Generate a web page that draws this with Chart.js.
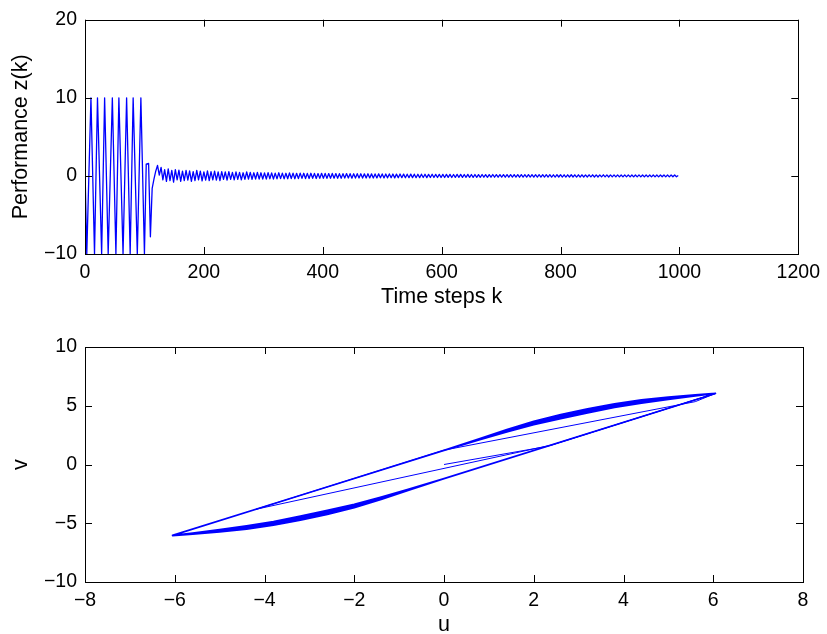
<!DOCTYPE html>
<html>
<head>
<meta charset="utf-8">
<script src="https://cdn.jsdelivr.net/npm/chart.js@4.4.0/dist/chart.umd.min.js"></script>
<style>
  html, body { margin: 0; padding: 0; background: #fff; overflow: hidden; }
  #top-chart { position: absolute; left: 0; top: 0; }
  #bot-chart { position: absolute; left: 0; top: 320px; }
</style>
</head>
<body>
<canvas id="top-chart" width="827" height="320"></canvas>
<canvas id="bot-chart" width="827" height="340"></canvas>
<script>
// tick labels
const topXTicks = [0, 200, 400, 600, 800, 1000, 1200]
const topYTicks = [-10, 0, 10, 20]
const botXTicks = [-8, -6, -4, -2, 0, 2, 4, 6, 8]
const botYTicks = [-10, -5, 0, 5, 10]

// z(k): saturated start, read peak by peak
const zStartK   = [0, 3, 10, 16, 21, 28, 33, 39, 46, 52, 57, 64, 70, 76, 81, 88, 94, 100, 103, 107, 110, 113]
const zStartVal = [0.9, -10, 10, -10, 10, -10, 10, -10, 10, -10, 10, -10, 10, -10, 10, -10, 10, -10, 1.5, 1.6, -7.8, -1.6]

// z(k) after the switch, one value every 3 steps from k = 116
const zTailFirstK = 116
const zTailStepK = 3
const zTailVal = [
  -0.4, 0.6, 1.35, 0.1, 1.1, -0.5, 0.8, -0.7, 0.9, -0.6, 0.7, -0.8, 0.8, -0.5, 0.75, -0.7, 0.6, -0.6, 0.7, -0.55,
  0.65, -0.7, 0.55, -0.6, 0.7, -0.5, 0.6, -0.65, 0.5, -0.55, 0.65, -0.6, 0.55, -0.5, 0.6, -0.55, 0.5, -0.6, 0.55, -0.45,
  0.5, -0.55, 0.55, -0.45, 0.45, -0.5, 0.5, -0.45, 0.45, -0.5, 0.4, -0.45, 0.5, -0.4, 0.45, -0.45, 0.4, -0.4, 0.45, -0.4,
  0.4, -0.42, 0.38, -0.4, 0.42, -0.36, 0.38, -0.4, 0.36, -0.38, 0.4, -0.35, 0.36, -0.38, 0.34, -0.36, 0.38, -0.34, 0.35, -0.36,
  0.33, -0.35, 0.36, -0.32, 0.34, -0.34, 0.32, -0.33, 0.34, -0.31, 0.32, -0.33, 0.3, -0.32, 0.33, -0.3, 0.31, -0.32, 0.3, -0.3,
  0.31, -0.29, 0.3, -0.3, 0.28, -0.3, 0.29, -0.28, 0.3, -0.27, 0.28, -0.29, 0.27, -0.28, 0.28, -0.27, 0.27, -0.28, 0.26, -0.27,
  0.27, -0.26, 0.26, -0.27, 0.25, -0.26, 0.26, -0.25, 0.25, -0.26, 0.24, -0.25, 0.25, -0.24, 0.24, -0.25, 0.23, -0.24, 0.24, -0.23,
  0.23, -0.24, 0.22, -0.23, 0.23, -0.22, 0.22, -0.23, 0.21, -0.22, 0.22, -0.21, 0.21, -0.22, 0.2, -0.21, 0.21, -0.2, 0.2, -0.21,
  0.2, -0.2, 0.19, -0.2, 0.2, -0.19, 0.19, -0.2, 0.18, -0.19, 0.19, -0.18, 0.19, -0.19, 0.18, -0.18, 0.19, -0.18, 0.18, -0.19,
  0.18, -0.18, 0.17, -0.18, 0.18, -0.17, 0.17, -0.18, 0.17, -0.17, 0.18, -0.17, 0.16, -0.17, 0.17, -0.16, 0.17, -0.17, 0.16, -0.17,
  0.16, -0.16, 0.17, -0.16, 0.16, -0.17, 0.16, -0.16, 0.15, -0.16, 0.16, -0.15, 0.16, -0.16, 0.15, -0.16, 0.15, -0.15, 0.16, -0.15,
  0.15, -0.15, 0.15, -0.16, 0.14, -0.15, 0.15, -0.14, 0.15, -0.15, 0.14, -0.15, 0.14, -0.14, 0.15, -0.14, 0.14, -0.15, 0.14, -0.14,
  0.14, -0.14, 0.13, -0.14, 0.14, -0.13, 0.14, -0.14, 0.13, -0.14, 0.13, -0.13, 0.14, -0.13, 0.13, -0.14, 0.13, -0.13, 0.13, -0.13,
  0.13, -0.13, 0.12, -0.13, 0.13, -0.12, 0.13, -0.13, 0.12, -0.13, 0.12, -0.12, 0.13, -0.12, 0.12, -0.13, 0.12, -0.12, 0.12, -0.12,
  0.12, -0.12, 0.11, -0.12, 0.12, -0.11, 0.12, -0.12, 0.11, -0.12, 0.11, -0.11, 0.12, -0.11, 0.05
]

// u-v: first pass from the origin
const uTransient = [0, 2.3, 6.05, 5.6, 0, -4.19, 2.4, 6.05]
const vTransient = [0, 1.54, 6.05, 5.35, 1.22, -3.81, 1.66, 6.05]

// u-v cycles: upper branch right -> left
const uUpper  = [6.05, 5.6, 5.0, 4.4, 3.8, 3.2, 2.6, 2.0, 1.4, 0.8, 0, -6.05]
const vUpper1 = [6.05, 5.93, 5.74, 5.50, 5.17, 4.74, 4.25, 3.68, 2.98, 2.22, 1.22, -6.05]
const vUpper2 = [6.05, 5.91, 5.69, 5.43, 5.09, 4.65, 4.16, 3.60, 2.92, 2.19, 1.22, -6.05]
const vUpper3 = [6.05, 5.88, 5.64, 5.36, 5.01, 4.57, 4.08, 3.53, 2.87, 2.16, 1.21, -6.04]
const vUpper4 = [6.04, 5.86, 5.59, 5.29, 4.93, 4.48, 3.99, 3.46, 2.81, 2.13, 1.21, -6.04]
const vUpper5 = [6.04, 5.83, 5.54, 5.22, 4.85, 4.39, 3.90, 3.38, 2.76, 2.10, 1.20, -6.03]

// lower branch left -> right
const uLower  = [-6.05, -5.6, -5.0, -4.4, -3.8, -3.2, -2.6, -2.0, -1.4, -0.8, 0, 6.05]
const vLower1 = [-6.05, -5.93, -5.74, -5.50, -5.17, -4.74, -4.25, -3.68, -2.98, -2.22, -1.22, 6.05]
const vLower2 = [-6.05, -5.91, -5.69, -5.43, -5.09, -4.65, -4.16, -3.60, -2.92, -2.19, -1.22, 6.05]
const vLower3 = [-6.04, -5.88, -5.64, -5.36, -5.01, -4.57, -4.08, -3.53, -2.87, -2.16, -1.21, 6.04]
const vLower4 = [-6.04, -5.86, -5.59, -5.29, -4.93, -4.48, -3.99, -3.46, -2.81, -2.13, -1.21, 6.04]
const vLower5 = [-6.03, -5.83, -5.54, -5.22, -4.85, -4.39, -3.90, -3.38, -2.76, -2.10, -1.20, 6.04]

const BLUE = '#0000ff'
const FONT = '"Liberation Sans", Arial, Helvetica, sans-serif'
Chart.defaults.font.family = FONT
Chart.defaults.color = '#000'

function minus(v) { return String(v).replace('-', '\u2212') }

function zPoints() {
  let pts = []
  for (let i = 0; i < zStartK.length; i++) pts.push({x: zStartK[i], y: zStartVal[i]})
  for (let i = 0; i < zTailVal.length; i++) pts.push({x: zTailFirstK + i * zTailStepK, y: zTailVal[i]})
  return pts
}

function transientPoints() {
  let pts = []
  for (let i = 0; i < uTransient.length; i++) pts.push({x: uTransient[i], y: vTransient[i]})
  return pts
}

function cyclePoints() {
  let pts = []
  let ups = [vUpper1, vUpper2, vUpper3, vUpper4, vUpper5]
  let lows = [vLower1, vLower2, vLower3, vLower4, vLower5]
  for (let c = 0; c < ups.length; c++) {
    for (let i = 0; i < uUpper.length; i++) pts.push({x: uUpper[i], y: ups[c][i]})
    for (let i = 0; i < uLower.length; i++) pts.push({x: uLower[i], y: lows[c][i]})
  }
  return pts
}

// matlab style box with inward ticks on all four sides
const boxTicks = {
  id: 'boxTicks',
  afterDraw(chart) {
    const ctx = chart.ctx, a = chart.chartArea
    const xs = chart.scales.x, ys = chart.scales.y
    const L = 7
    ctx.save()
    ctx.strokeStyle = '#000'
    ctx.lineWidth = 1
    ctx.beginPath()
    for (const t of xs.ticks) {
      const px = Math.round(xs.getPixelForValue(t.value)) + 0.5
      ctx.moveTo(px, a.bottom); ctx.lineTo(px, a.bottom - L)
      ctx.moveTo(px, a.top); ctx.lineTo(px, a.top + L)
    }
    for (const t of ys.ticks) {
      const py = Math.round(ys.getPixelForValue(t.value)) + 0.5
      ctx.moveTo(a.left, py); ctx.lineTo(a.left + L, py)
      ctx.moveTo(a.right, py); ctx.lineTo(a.right - L, py)
    }
    ctx.stroke()
    ctx.strokeRect(Math.round(a.left) + 0.5, Math.round(a.top) + 0.5,
                   Math.round(a.right - a.left), Math.round(a.bottom - a.top))
    ctx.restore()
  }
}

function xAxis(ticks, min, max, title, titlePad, height) {
  return {
    type: 'linear', min: min, max: max,
    grid: { display: false, drawTicks: false },
    border: { display: false },
    afterBuildTicks: s => { s.ticks = ticks.map(v => ({value: v})) },
    afterFit: s => { s.height = height },
    ticks: { padding: 7, maxRotation: 0, autoSkip: false, font: { size: 19.5 }, callback: minus },
    title: { display: true, text: title, font: { size: 21.5 }, padding: { top: 0, bottom: titlePad } }
  }
}

function yAxis(ticks, min, max, title, titlePad) {
  return {
    type: 'linear', min: min, max: max,
    grid: { display: false, drawTicks: false },
    border: { display: false },
    afterBuildTicks: s => { s.ticks = ticks.map(v => ({value: v})) },
    afterFit: s => { s.width = 85 },
    ticks: { padding: 8, autoSkip: false, font: { size: 19.5 }, callback: minus },
    title: { display: true, text: title, font: { size: 21.5 }, padding: { top: titlePad, bottom: 0 } }
  }
}

new Chart(document.getElementById('top-chart'), {
  type: 'line',
  data: {
    datasets: [{
      data: zPoints(),
      borderColor: BLUE,
      borderWidth: 1.3,
      borderJoinStyle: 'round',
      pointRadius: 0,
      tension: 0,
      fill: false
    }]
  },
  options: {
    responsive: false,
    animation: false,
    devicePixelRatio: 1,
    layout: { padding: { top: 19, right: 24, left: 0, bottom: 0 } },
    plugins: { legend: { display: false }, tooltip: { enabled: false } },
    scales: {
      x: xAxis(topXTicks, 0, 1200, 'Time steps k', 10, 66),
      y: yAxis(topYTicks, -10, 20, 'Performance z(k)', 8)
    }
  },
  plugins: [boxTicks]
})

new Chart(document.getElementById('bot-chart'), {
  type: 'scatter',
  data: {
    datasets: [{
      data: transientPoints(),
      showLine: true,
      borderColor: BLUE,
      borderWidth: 1,
      borderJoinStyle: 'round',
      pointRadius: 0,
      tension: 0,
      fill: false
    }, {
      data: cyclePoints(),
      showLine: true,
      borderColor: BLUE,
      borderWidth: 1.6,
      borderJoinStyle: 'round',
      pointRadius: 0,
      tension: 0,
      fill: false
    }]
  },
  options: {
    responsive: false,
    animation: false,
    devicePixelRatio: 1,
    layout: { padding: { top: 27, right: 24, left: 0, bottom: 0 } },
    plugins: { legend: { display: false }, tooltip: { enabled: false } },
    scales: {
      x: xAxis(botXTicks, -8, 8, 'u', 22, 78),
      y: yAxis(botYTicks, -10, 10, 'v', 8)
    }
  },
  plugins: [boxTicks]
})
</script>
</body>
</html>
